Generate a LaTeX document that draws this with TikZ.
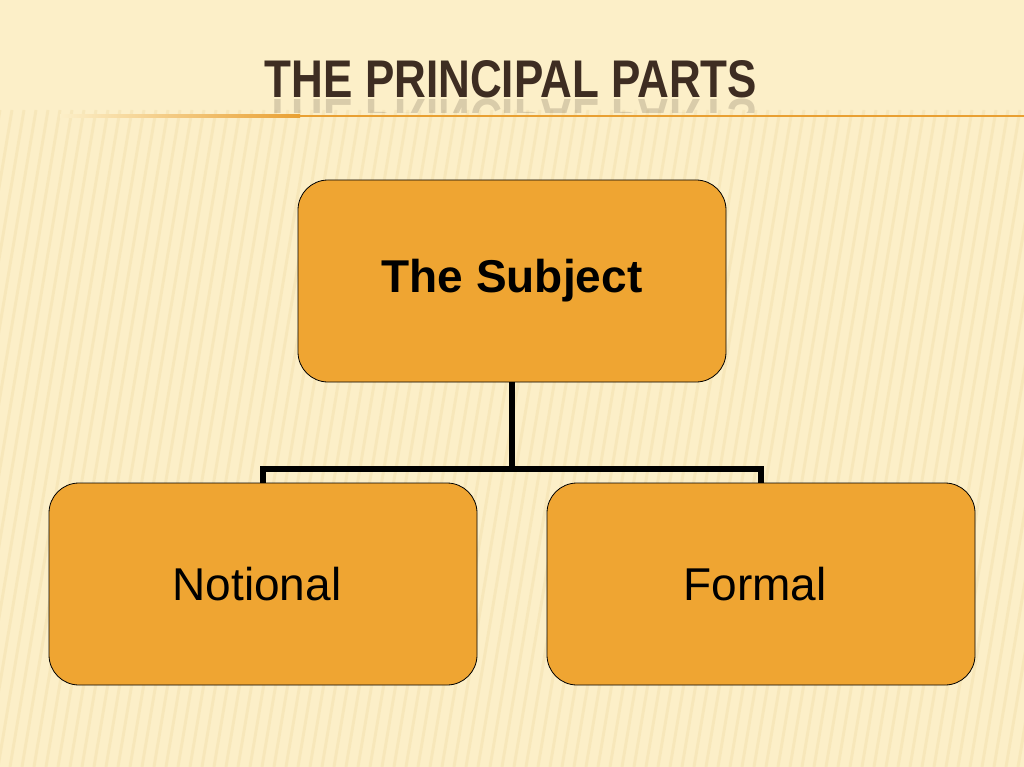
\documentclass[tikz,border=0pt]{standalone}
\usepackage{fontspec}
\setmainfont{Liberation Sans}
\usetikzlibrary{positioning}
\definecolor{paper}{HTML}{FCEFC8}
\definecolor{stripe}{HTML}{F3E0AE}
\definecolor{boxfill}{HTML}{EFA532}
\definecolor{titleink}{HTML}{3E2D22}
\definecolor{ruleline}{HTML}{E9A032}
\tikzset{
  part/.style={draw=black, line width=0.8pt, fill=boxfill, rounded corners=30pt,
    minimum width=428pt, minimum height=202pt, inner sep=0pt, font=\fontsize{46}{50}\selectfont},
  link/.style={line width=5.5pt, black}
}
\begin{document}
\begin{tikzpicture}[x=1pt,y=-1pt]
        % background
        \fill[paper] (0,0) rectangle (1024,767);
        \useasboundingbox (0,0) rectangle (1024,767);
        \foreach \s in {0,12,...,1150}
            \draw[stripe, line width=3pt, opacity=0.5] (\s-110,767) -- (\s,110);
        \fill[paper, opacity=0.7] (0,0) rectangle (1024,108);
        % title
        \node[anchor=base, text=titleink, font=\bfseries\fontsize{53}{56}\selectfont] (title) at (511,98)
            {\scalebox{0.83}[1]{THE PRINCIPAL PARTS}};
        \begin{scope}
            \clip (200,99) rectangle (820,113);
            \node[anchor=base, text=titleink, opacity=0.18, yscale=-1, font=\bfseries\fontsize{53}{56}\selectfont] (mirror) at (511,100)
                {\scalebox{0.83}[1]{THE PRINCIPAL PARTS}};
        \end{scope}
        \shade[left color=paper, right color=ruleline] (60,115) rectangle (300,117.5);
        \fill[ruleline] (300,115) rectangle (1024,117.5);
        % boxes
        \node[part, font=\bfseries\fontsize{46}{50}\selectfont] (subject) at (512,281) {The Subject};
        \node[part] (notional) at (263,584) {\hspace*{-12pt}Notional};
        \node[part] (formal) at (761,584) {\hspace*{-12pt}Formal};
        \coordinate (fork) at (512,469);
        \draw[link] (subject.south) -- (fork);
        \draw[link] (notional.north) |- (fork) -| (formal.north);
\end{tikzpicture}
\end{document}
